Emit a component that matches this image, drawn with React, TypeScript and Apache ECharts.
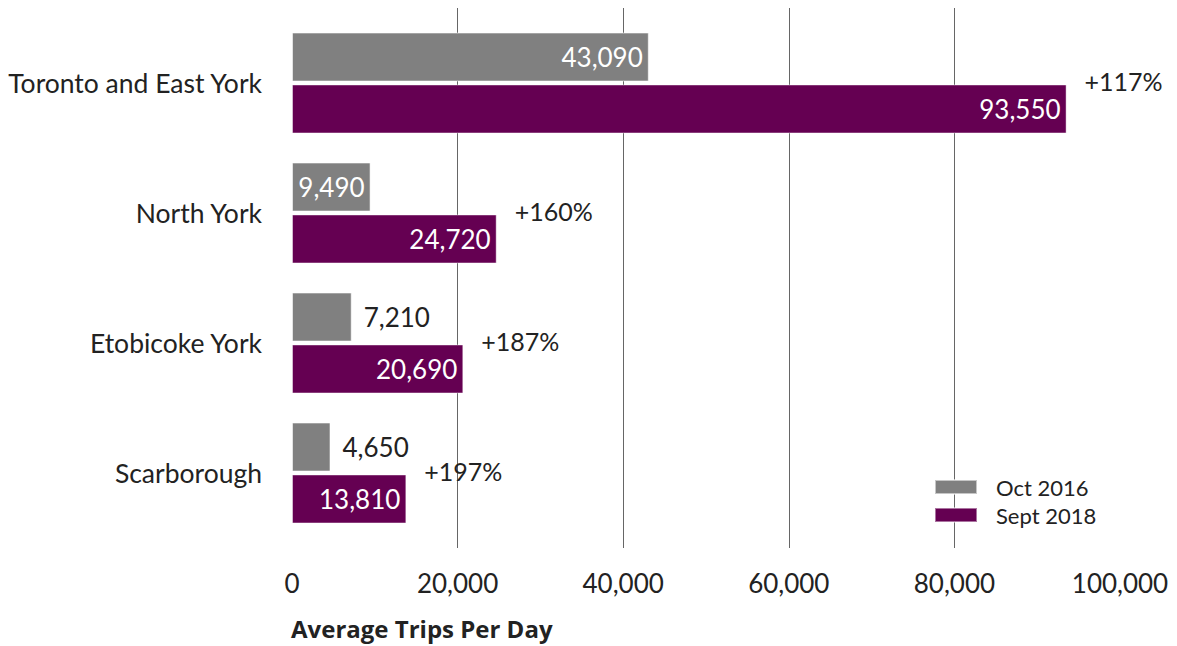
import React, { useEffect, useRef } from "react";
import * as echarts from "echarts";

const categories = ["Toronto and East York", "North York", "Etobicoke York", "Scarborough"];
const oct2016 = [43090, 9490, 7210, 4650];
const sept2018 = [93550, 24720, 20690, 13810];
const growthLabels = ["+117%", "+160%", "+187%", "+197%"];
const outsideLabel2016 = [false, false, true, true];
const xTicks = [0, 20000, 40000, 60000, 80000, 100000];

const FONT = "Lato";
const TEXT = "#222222";
const GRAY = "#808080";
const PURPLE = "#650052";

export default function App() {
  const ref = useRef<HTMLDivElement>(null);
  useEffect(() => {
    if (!ref.current) return;
    const chart = echarts.init(ref.current, undefined, { renderer: "svg" });
    const fmt = (v: number) => v.toLocaleString("en-US");
    const option: any = {
      animation: false,
      textStyle: { fontFamily: FONT, color: TEXT },
      title: {
        text: "Average Trips Per Day",
        left: 291,
        top: 616,
        padding: 0,
        textStyle: { fontFamily: "Open Sans", fontWeight: "bold", fontSize: 24, color: TEXT },
      },
      legend: {
        orient: "vertical",
        left: 934,
        top: 476,
        padding: 0,
        itemWidth: 42,
        itemHeight: 14,
        itemGap: 6,
        icon: "rect",
        data: ["Oct 2016", "Sept 2018"],
        textStyle: { fontFamily: FONT, fontSize: 22, color: TEXT, padding: [0, 0, 0, 14] },
      },
      grid: [
        { left: 292, right: 57, top: 8, bottom: 98 },
        { left: 292, right: 57, top: 18, bottom: 108 },
      ],
      xAxis: [
        {
          type: "value",
          gridIndex: 0,
          min: xTicks[0],
          max: xTicks[xTicks.length - 1],
          interval: xTicks[1] - xTicks[0],
          axisLine: { show: false },
          axisTick: { show: false },
          axisLabel: {
            margin: 22,
            fontFamily: FONT,
            fontSize: 26,
            color: TEXT,
            formatter: (v: number) => fmt(v),
          },
          splitLine: {
            show: true,
            lineStyle: {
              color: ["transparent", "#666666", "#666666", "#666666", "#666666", "transparent"],
              width: 1,
            },
          },
        },
        {
          type: "value",
          gridIndex: 1,
          min: xTicks[0],
          max: xTicks[xTicks.length - 1],
          show: false,
          splitLine: { show: false },
        },
      ],
      yAxis: [
        { type: "value", gridIndex: 0, show: false, min: 0, max: 1, splitLine: { show: false } },
        {
          type: "category",
          gridIndex: 1,
          inverse: true,
          data: categories,
          axisLine: { show: false },
          axisTick: { show: false },
          axisLabel: { margin: 30, fontFamily: FONT, fontSize: 26.5, color: TEXT },
        },
      ],
      series: [
        {
          name: "Oct 2016",
          type: "bar",
          xAxisIndex: 1,
          yAxisIndex: 1,
          barWidth: 49,
          barGap: "6%",
          itemStyle: { color: GRAY, borderColor: "rgba(255,255,255,0.55)", borderWidth: 1 },
          data: oct2016.map((v, i) => ({
            value: v,
            label: outsideLabel2016[i]
              ? { position: "right", distance: 12, color: TEXT }
              : { position: "insideRight", distance: 6, color: "#ffffff" },
          })),
          label: {
            show: true,
            fontFamily: FONT,
            fontSize: 26,
            formatter: (p: any) => fmt(p.value),
          },
        },
        {
          name: "Sept 2018",
          type: "bar",
          xAxisIndex: 1,
          yAxisIndex: 1,
          barWidth: 49,
          barGap: "6%",
          itemStyle: { color: PURPLE, borderColor: "rgba(255,255,255,0.45)", borderWidth: 1 },
          data: sept2018,
          label: {
            show: true,
            position: "insideRight",
            distance: 6,
            color: "#ffffff",
            fontFamily: FONT,
            fontSize: 26,
            formatter: (p: any) => fmt(p.value),
          },
        },
        {
          name: "growth",
          type: "scatter",
          xAxisIndex: 1,
          yAxisIndex: 1,
          symbolSize: 2,
          itemStyle: { color: "rgba(0,0,0,0)", opacity: 1 },
          silent: true,
          data: sept2018.map((v, i) => [v, categories[i]]),
          label: {
            show: true,
            position: "right",
            distance: 17,
            offset: [0, -2],
            fontFamily: FONT,
            fontSize: 25,
            color: TEXT,
            opacity: 1,
            formatter: (p: any) => growthLabels[p.dataIndex],
          },
        },
      ],
    };
    chart.setOption(option);
    return () => chart.dispose();
  }, []);
  return <div ref={ref} style={{ width: 1177, height: 646, position: "absolute", left: 0, top: 0 }} />;
}
